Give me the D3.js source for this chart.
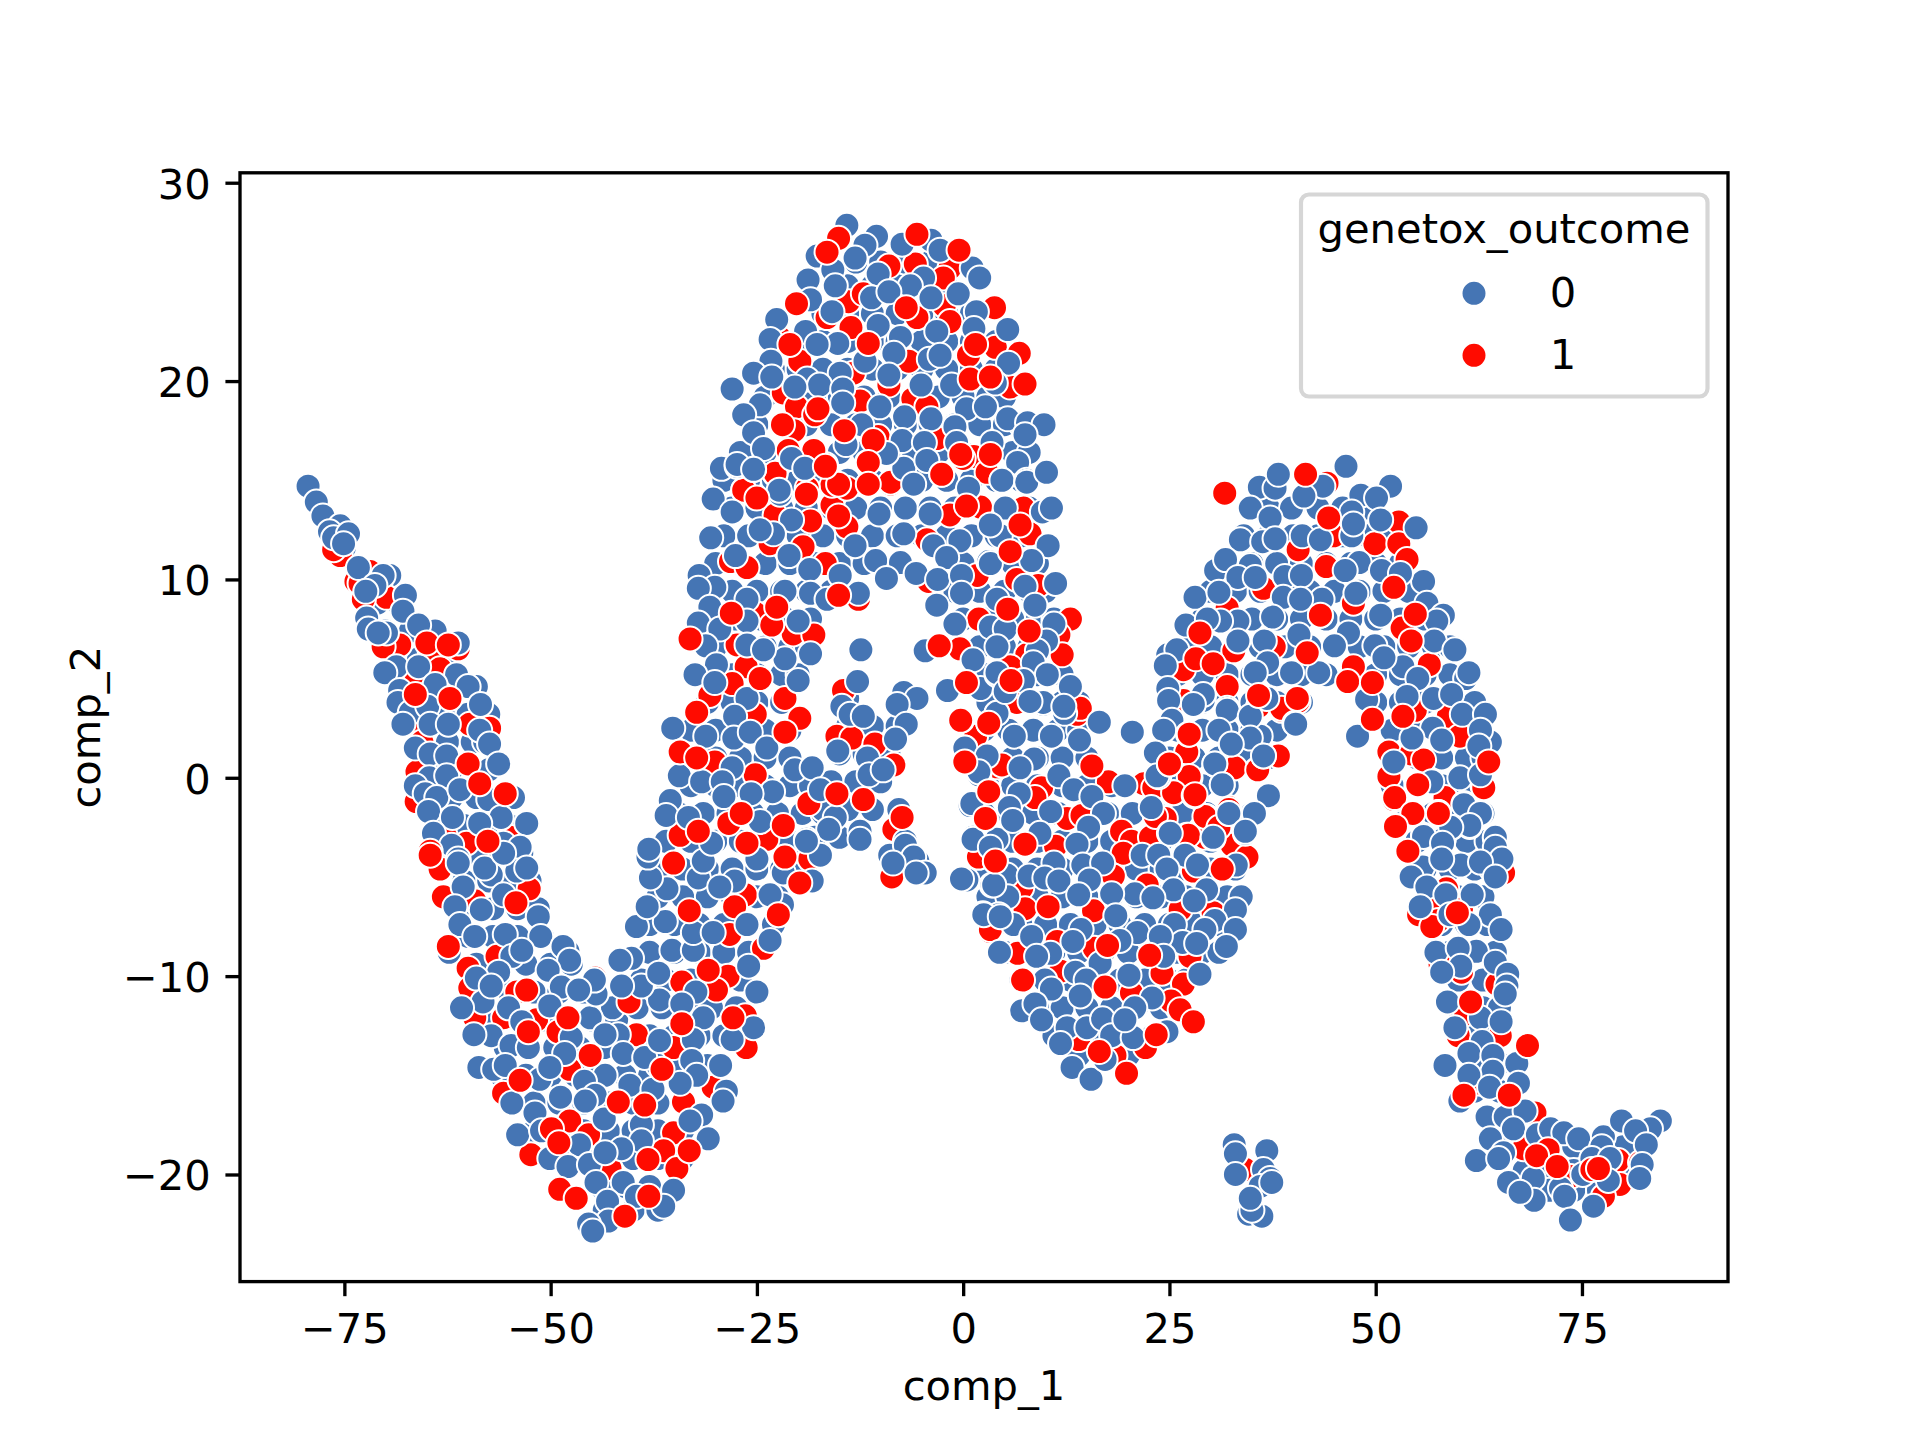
<!DOCTYPE html>
<html>
<head>
<meta charset="utf-8">
<title>comp_1 vs comp_2</title>
<script src="https://cdn.jsdelivr.net/npm/d3@7"></script>
<style>
  html, body { margin: 0; padding: 0; background: #fff; }
  svg { display: block; }
  text { font-family: "DejaVu Sans", sans-serif; fill: #000; }
</style>
</head>
<body>
<script>
// tick labels and legend entries
const xTickValues = [-75, -50, -25, 0, 25, 50, 75];
const yTickValues = [-20, -10, 0, 10, 20, 30];
const legendTitle = 'genetox_outcome';
const legendLabels = ['0', '1'];

// outcome 0 points that are mostly hidden by the others: [comp_2, [comp_1, ...]]
const blueHidden = [
[11.6,[-75]],[10.2,[-72,-69.5]],[8.8,[-71,-68.5]],[7.4,[-70,-67,-64]],[6,[-69,-66,-63]],[4.6,[-67.5,-64.5,-61.5,-59]],[3.2,[-66,-63,-60,-57.5]],[1.8,[-65.5,-62.5,-59.5,-58]],[0.4,[-65,-62,-59,-57.5]],[-1,[-65,-62,-59,-56,-54.5]],[-2.4,[-63.5,-60.5,-57.5,-55]],[-3.8,[-62,-59,-56,-53.5]],[-5.2,[-60.5,-57.5,-54.5,-52.5]],[-6.6,[-60,-57,-54,-51.5]],[-8,[-60,-57,-54,-51]],[-9.4,[-59,-56,-53,-50,-47.5]],[-10.8,[-58,-55,-52,-49,-46]],[-12.2,[-57,-54,-51,-48,-45,-42]],[-13.6,[-55.5,-52.5,-49.5,-46.5,-43.5,-40.5]],[-15,[-56,-53,-50,-47,-44,-41,-38]],[-16.4,[-52,-49,-46,-43,-40,-37]],[-17.8,[-52,-49,-46,-43,-40,-37,-34]],[-19.2,[-49,-46,-43,-40,-37,-34]],[-20.6,[-44,-41,-38]],[-21.8,[-43.5,-40,-37]],
[-14.5,[-37,-34,-31]],[-13,[-38,-35,-32,-29]],[-11.6,[-42.5,-39.5,-36.5,-33.5,-30.5,-27.5]],[-10.2,[-39,-36,-33,-30,-27]],[-8.8,[-38,-35,-32,-29,-26]],[-7.4,[-38,-35,-32,-29,-26,-23]],[-6,[-37,-34,-31,-28,-25,-22.5]],[-4.6,[-37,-34,-31,-28,-25,-22,-19.5]],[-3.2,[-36,-33,-30,-27,-24,-21,-18]],[-1.8,[-34.5,-31.5,-28.5,-25.5,-22.5,-19.5,-17]],[-0.4,[-33,-30,-27,-24,-21,-18.5]],[1,[-33,-30,-27,-24,-21]],[2.4,[-33,-30,-27,-24,-21]],[3.8,[-31,-28,-25,-22]],[5.2,[-31,-28,-25,-22,-20]],[6.6,[-30,-27,-24,-21,-19]],[8,[-30.5,-27.5,-24.5,-21.5,-18.5]],[9.4,[-31,-28,-25,-22,-19,-16]],[10.8,[-30,-27,-24,-21,-18,-15,-12]],[12.2,[-29,-26,-23,-20,-17,-14,-11,-8,-5,-2,1,4,7]],[13.6,[-28,-25,-22,-19,-16,-13,-10,-7,-4,-1,2,5,8]],[15,[-29,-26,-23,-20,-17,-14,-11,-8,-5,-2,1,4,7]],[16.4,[-27,-24,-21,-18,-15,-12,-9,-6,-3,0,3,6,8]],[17.8,[-25,-22,-19,-16,-13,-10,-7,-4,-1,2,5,7]],[19.2,[-24,-21,-18,-15,-12,-9,-6,-3,0,3,5]],[20.6,[-23,-20,-17,-14,-11,-8,-5,-2,1,4]],[22,[-20,-17,-14,-11,-8,-5,-2,1,4]],[23.4,[-17,-14,-11,-8,-5,-2,1]],[24.8,[-14,-11,-8,-5,-2]],[26,[-13,-10,-7,-4]],
[4,[-14,-7]],[2.6,[-14,-11,-8]],[1.2,[-15,-12,-9]],[-0.2,[-16,-13,-10]],[-1.6,[-17,-14,-11]],[-3,[-18,-15]],[-4.2,[-19.5,-7.5,-5.5]],
[10.8,[0,3,6,9]],[9.4,[-1,2,5,8,10]],[8,[0,3,6,9,11]],[6.6,[2,5,8,10]],[5.2,[3,6,9,12]],[3.8,[3,6,9,12,14]],[2.4,[2.5,5.5,8.5,11.5,14]],[1,[3,6,9,12,15]],[-0.4,[3,6,9,12,15,18,26,29,32]],[-1.8,[2.5,5.5,8.5,11.5,14.5,17.5,20.5,23.5,26.5,29.5,32.5,35]],[-3.2,[3,6,9,12,15,18,21,24,27,30,33]],[-4.6,[3,6,9,12,15,18,21,24,27,30,33]],[-6,[3,6,9,12,15,18,21,24,27,30,32]],[-7.4,[4,7,10,13,16,19,22,25,28,31]],[-8.8,[5,8,11,14,17,20,23,26,29,31]],[-10.2,[7,10,13,16,19,22,25,27]],[-11.6,[9,12,15,18,21,24,26]],[-13,[11,14,17,20,23]],[-14,[14,17,20]],
[1,[25,28,31,34,37]],[2.4,[26,29,32,35,38]],[3.8,[26,29,32,35,38,41]],[5.2,[26,29,32,35,38,41,44,50,53,56,59]],[6.6,[27,30,33,36,39,42,45,48,51,54,57,59]],[8,[29,32,35,38,41,44,47,50,53,56]],[9.4,[30,33,36,39,42,45,48,51,54]],[10.8,[32,35,38,41,44,47,50,53]],[12.2,[34,37,40,43,46,49,52]],[13.6,[37,40,43,46,49]],
[3.8,[50,53,56,59,62]],[2.4,[52,55,58,61]],[1,[52,55,58,61,63]],[-0.4,[52,55,58,61,63]],[-1.8,[54,57,60,63]],[-3.2,[55,58,61,63.5]],[-4.6,[56,59,62,64]],[-6,[57,60,63]],[-7.4,[58,61,63.5]],[-8.8,[59,62,64.5]],[-10.2,[60,63,65]],[-11.6,[60,63,65]],[-13,[61,64]],[-14.4,[62,65]],[-15.8,[62,65]],[-17.2,[64,67]],[-18.6,[65,68,71,74,77,80]],[-19.8,[68,71,74,77,80]],[-20.8,[69,71,74,77]]
];

// points, [comp_1, comp_2]
// outcome 1 points that sit under the outcome 0 points
const redBack = [
[-75.5,11.2],[-76.3,11.5],[-71.9,10.4],[-73.6,9.9],[-73.1,9.8],[-70.7,9.7],[-69.9,9.1],[-72.7,9],[-68.3,6.7],[-70.3,6.6],[-61.2,6.5],[-64.6,6.4],[-66.4,5.3],[-63.4,5.5],[-65.4,2.7],[-65.6,1.8],[-57.4,2.5],[-59.8,2.7],[-66.2,0.3],[-66.3,-1.2],[-62.8,-2.9],[-60.2,-3.3],[-54.9,-3],
[-63.4,-4.6],[-52.6,-5.6],[-63,-6],[-59.2,-6.2],[-26.4,-5.9],[-27.7,-6.5],[-28.3,-7.9],[-24.2,-8.6],[-56.5,-9],[-60,-9.6],[-54.1,-10.8],[-52.9,-10.7],[-59.8,-10.6],[-55.7,-12.1],[-51.7,-12.2],[-59.2,-12.1],[-49.1,-12.8],[-40.5,-11.3],[-39.6,-12.95],[-34.1,-10.3],[-28.5,-10],[-29.9,-10.7],[-26.4,-12],[-26.3,-13.6],[-35.1,-13.6],[-30.3,-15.6],[-55.7,-15.9],[-33.9,-16.35],[-47.7,-17.3],[-45.4,-18],[-52.4,-19],[-35.1,-17.9],[-36.3,-18.8],[-34.7,-19.7],[-42.8,-19.7],[-47.7,-14.7],[-44.6,-10.1],
[-22.8,15.3],[-16.7,15.8],[-8.8,14.8],[-11.5,14.8],[-15.9,13.75],[-14.1,14.6],[-15.9,14.75],[-18.5,12.95],[-22.8,13.25],[-26.6,14.5],[-1.6,13.25],[2.1,13.65],[-14.1,12.65],[-4.4,12],[-19.4,11.65],[-23.4,11.8],[-28.2,10.9],[-26.2,10.6],[-16.7,10.8],[-4.2,9.9],[1.7,10.2],[-12.7,9],[-25.2,8.3],[1.9,8],[-20.6,7.25],[-18.1,7.2],[-23.2,7.7],[-27.4,6.7],[-0.4,6.5],[-26.3,5.6],[-28,4.75],[0.4,4.8],[-14.5,4.4],[-30.7,4.15],[-21.6,4],[-25.2,3.2],[-19.8,3],[-15.3,2.1],[-13.5,2],[-10.7,1.7],[1.5,2.1],[-30.1,0.8],[-8.4,0.65],[0.2,0.8],[-25.2,0.15],[4.1,0.55],[3.1,-0.7],[-18.7,-1.3],[-28.4,-2.3],[-34.3,-2.9],[-8.4,-2.6],[2.7,-2.1],[-23.8,-3.1],
[-5.8,25.9],[-9,25.8],[-1.6,25.7],[-2.4,25.2],[-13.9,24],[-12.1,24.4],[-2.3,23.8],[3.8,23.7],[-5.6,23.2],[-1.6,23],[-16.5,23.2],[-13.6,22.7],[-22.3,22.2],[3.9,21.7],[6.8,21.4],[0.65,21.3],[-19.8,21],[-6.6,21],[-13.3,20.4],[-9,19.8],[5.7,19.7],[-21.8,19.4],[-20.2,18.7],[-18,18.3],[-6.1,19.1],[-4.4,18.7],[-12.5,19],[-20.5,17.5],[-10.3,17.2],[-18.1,16.5],[-21.2,16.5],[-22.8,15.35],[1.3,16.2],[-3.2,17.1],[-26.6,14.5],[-18.9,14.6],[-8.8,14.9],[-15.1,14.8],[2.9,15.4],
[13.8,3.2],[3.1,2.75],[27.1,1.3],[35.8,3.6],[38.6,3.4],[40.6,3.85],[0.2,0.8],[4.7,0.65],[25,0.7],[38.2,1.1],[32.8,0.5],[35.6,0.4],[27.5,0],[17.6,-0.2],[21.9,-0.3],[9.5,-0.5],[25.5,-0.75],[23.1,-0.5],[8.7,-1],[12.6,-2.05],[14.4,-1.9],[24.5,-2.05],[29.5,-1.95],[32.2,-1.5],[19.2,-2.7],[20.4,-3.2],[22.7,-3],[27.1,-2.9],[31.1,-2.6],[29.3,-3],[32.6,-3.4],[11.2,-3.45],[19.4,-3.8],[1.9,-4],[34.4,-4],[27.9,-4.7],[18.2,-4.95],[22.3,-5.4],[7.1,-5.55],[7.5,-6.6],[15.8,-6.7],[26.3,-6.65],[30.3,-6.8],[3.3,-7.75],[11.4,-8.25],[6.6,-8.85],[15.9,-8.6],[27.5,-9],[24.1,-9.85],[11.8,-9.75],[20.4,-10.85],[26.7,-10.4],[25.2,-11.25],[26.3,-11.7],[14,-13.2],[18.4,-14],[22.1,-13.6],
[38.2,15.2],[44.1,14.85],[52.8,12.9],[49.9,11.8],[52.8,11.8],[44.9,12.2],[40.6,11.5],[53.8,11],[44,10.65],[36.4,9.55],[32,8.55],[43.3,8.2],[47.3,8.8],[56,8.4],[53.2,7.55],[37.7,6.6],[32.8,6.4],[47.3,5.6],[56.5,5.7],[26.7,5.45],[32,4.6],[38.6,3.5],[26.7,3.9],[53.3,3.1],[54.8,3.4],[58.8,3.1],[60.2,2.1],[27.1,1.3],[38.2,1.1],[51.6,1.3],[54.3,1.2],[55.8,0.9],[32.9,0.5],[35.7,0.4],[27.4,0.07],[51.6,0.07],[63.1,-0.5],[25.5,-0.75],[58.4,-1],[32.2,-1.6],[29.3,-1.95],[57.6,-1.75],[23.3,-1.95],[31,-2.5],[27.3,-2.9],
[52.2,-1.1],[65.5,-4.8],[58.6,-5.6],[57.4,-6.4],[55.2,-6.9],[60.4,-6.6],[57.6,-7.2],[56.8,-7.5],[57.8,-9.4],[59.2,-9.3],[60.4,-9.8],[64.7,-10.4],[60.9,-11.9],[60,-13],[65.1,-13],[62.7,-15.4],[69.3,-16.9],[67.1,-16.9],[67.9,-18.7],[73.6,-20.1],[79.4,-19.3],[79.6,-20.5],[82.1,-19.4],[77.6,-21.1],[34.2,-19.75],
[-21.6,-4],[-18.6,-4.1],[-22.4,-6.9],[-8.65,-5],[1.85,-4],[3.9,-4.2],[3.3,-7.65],
[7.3,13.6],[8.1,12.3],[6.5,10],[9.1,9.7],[13,8],[11.6,7.2],[12,6.2],[7.7,6.2],[5.7,5.6],[14.2,3.5],[6.5,3.8]
];

// outcome 0 points
const blue = [
[-79.4,14.7],[-78.4,13.9],[-77.6,13.2],[-75.5,12.7],[-76.8,12.4],[-76.3,12.1],[-74.5,12.3],[-75.1,11.8],[-73.3,10.6],[-70.3,10.2],[-71.3,9.7],[-72.4,9.4],[-67.6,9.2],[-67.9,8.4],[-72.3,8.05],[-72.1,7.5],[-69.9,7.3],[-70.9,7.3],[-66,7.7],[-61.2,6.8],[-68.7,5.6],[-70.1,5.3],[-66,5.6],[-61.4,5.2],[-64,4.7],[-60,4.6],[-68.3,4.4],[-68.5,3.8],[-67,3.3],[-64.9,3.6],[-58.5,3.7],[-67.9,2.7],[-64.6,2.7],[-62.4,2.7],[-58.6,2.4],[-57.4,1.7],[-66.4,1.5],[-64.6,1.2],[-62,0.8],[-62.6,1.1],[-56.3,0.7],[-64.7,0],[-62.6,0.1],[-66.4,-0.4],[-65.2,-0.8],[-63.8,-1],[-61,-0.6],[-57.5,-1.1],[-64.8,-1.7],[-61.9,-2],[-56,-2],[-52.9,-2.3],[-64.2,-2.8],[-58.6,-2.3],[-62,-3.4],[-55.7,-3.3],[-53.7,-3.5],[-61.2,-4.1],
[-61.2,-4.3],[-57.2,-4.9],[-58,-4.55],[-54.1,-4.7],[-52.9,-4.55],[-55.7,-3.8],[-60.6,-5.5],[-61.6,-6.5],[-58.4,-6.65],[-55.7,-5.9],[-51.5,-7],[-61,-7.4],[-59.2,-8],[-55.5,-7.9],[-51.2,-8],[-62.3,-8.8],[-54.7,-9],[-53.5,-8.7],[-47.9,-8.75],[-48.5,-8.5],[-47.7,-9.2],[-50.3,-9.7],[-56.3,-9.8],[-59,-10.1],[-48.7,-10.55],[-58.2,-11.3],[-60.8,-11.6],[-57.2,-10.5],[-55.1,-11.6],[-53.5,-12.3],[-50.1,-11.5],[-45.2,-12.1],[-44.5,-10.9],[-44.7,-10.2],[-46.6,-10.7],[-57.2,-13],[-59.3,-12.95],[-54.8,-13.5],[-52.7,-13.6],[-47.5,-13.1],[-41.8,-12.95],[-43.4,-12.95],[-41.2,-13.9],[-48.3,-13.9],[-58.7,-14.6],[-56.9,-14.7],[-55.5,-14.5],[-51.3,-15.2],[-50.1,-14.6],[-43.4,-15],[-45.9,-15.3],[-48.8,-16.1],[-44.6,-16],[-45.8,-16.3],[-40.4,-15.5],[-37.6,-15.7],[-38.6,-14.1],[-36.8,-13.25],[-36.8,-11.2],[-39,-10.5],[-41.4,-10.5],[-36.9,-9.85],[-40.2,-9.1],[-41.6,-9.2],[-35.3,-8.7],[-32.7,-8.7],[-39.6,-7.5],[-36.1,-7.25],[-38.3,-6.5],[-32.7,-7.8],[-35.9,-5.6],[-37.9,-5.05],[-32.1,-5.05],[-31.5,-4.2],[-38.2,-4],[-27.7,-5.2],[-25,-4.1],[-29.5,-5.5],[-26.2,-7.4],[-30.3,-7.8],[-26,-9.5],[-25,-10.8],[-32.4,-10.8],[-34.1,-11.4],[-31.5,-12.1],[-25.4,-12.6],[-28,-13.2],[-32.7,-13.2],[-29.4,-14.5],[-32.9,-14.25],[-32.3,-15],[-34.3,-15.4],[-28.7,-15.8],[-29.1,-16.3],[-54.7,-16.4],[-51.9,-16.9],[-43.5,-17.2],[-39,-17.5],[-39,-18.3],[-41.4,-18.7],[-31.7,-17],[-33.1,-17.3],[-30.9,-18.2],[-54,-18],[-51.1,-17.8],[-46.5,-18.5],[-50.1,-19.2],[-47.9,-19.6],[-45.3,-19.5],[-43.4,-18.9],[-44.5,-20.4],[-41.2,-20.4],[-35.1,-20.8],[-36.3,-21.6],[-43.1,-21.35],[-43,-22.35],[-45.4,-22.5],[-44.9,-22.85],[-39.6,-21.1],
[-29.3,15.6],[-27.4,15.7],[-25.4,15.55],[-19.2,15.6],[-22.2,14.3],[-30.3,14.05],[-28,13.4],[-20.8,13],[-10.2,13.3],[-4,13.3],[-23,12.3],[-24.6,12.5],[-30.6,12.1],[-7.2,12.3],[-13.1,11.7],[-3.6,11.7],[-0.4,11.95],[-27.6,11.2],[-21.1,11.2],[-10.6,10.95],[-7.6,10.85],[-2,11.1],[3.1,10.9],[-18.6,10.5],[-14.9,10.2],[-5.7,10.3],[-9.3,10.05],[-3.1,10],[-0.2,10.2],[-32,10.2],[-30.1,9.6],[-32.1,9.55],[-21.6,9.4],[-18.5,9.3],[-12.7,9.3],[-0.2,9.3],[-16.5,9],[-26.2,9],[-3.2,8.7],[-30.7,8.6],[-26.2,7.9],[-32.1,7.8],[-20,7.9],[-29.5,7.5],[-1,7.75],[3.3,7.6],[-12.4,6.45],[-4.6,6.4],[-26.2,6.7],[-31.2,6.65],[-18.5,6.25],[-21.6,6],[-24.2,6.45],[1.2,5.95],[-29.9,5.7],[-32.5,5.2],[-30.1,4.8],[-20,4.9],[-12.8,4.85],[-1.9,4.4],[2.1,4.5],[4.1,5.2],[-7.2,4.3],[-5.6,4],[-26.2,4],[-8,3.7],[-14.7,3.6],[-13.7,3.2],[-12.1,3.1],[4.1,3.25],[-27.7,3.1],[-35.2,2.5],[-6.9,2.7],[-8.2,1.95],[-31.2,2.1],[-27.8,2],[-25.8,2.3],[-23.8,1.5],[-15.2,1.35],[-11.6,1],[0.2,1.5],[-34.4,0.1],[-28,0.5],[-31.7,-0.2],[-29.2,-0.2],[-20.4,0.4],[-18.3,0.5],[-11.4,0.15],[-9.7,0.4],[-23.1,-0.7],[-25.7,-0.8],[-17.3,-0.6],[1.9,0.15],[-35.5,-1.15],[-29,-0.95],[-36,-1.9],[-33.3,-2],[-24.6,-2.2],[-15.5,-2],[-16.3,-2.6],[-12.5,-2.7],[-19,-3.1],[0.85,-1.4],[-7.8,-1.6],[-7,-3.2],[1.2,-3],[-38.1,-3.6],[-30.5,-3.3],[4.1,-3.1],
[-14.1,27.85],[-10.5,27.3],[-7.4,26.9],[-3.9,27.1],[-17.7,26.3],[-11.9,26.85],[-2.8,26.6],[-13.1,26.2],[1.1,25.7],[2,25.2],[-15.8,25.6],[-18.8,25.1],[-10.3,25.4],[-4.8,25.2],[-6.4,24.8],[-15.5,24.8],[-11.1,24.2],[-9,24.5],[-3.9,24.2],[-0.6,24.4],[-18.5,24.1],[-15.9,23.5],[1.6,23.5],[-22.6,23.1],[-10.3,22.8],[-3.2,22.5],[1.3,22.65],[5.4,22.6],[-7.6,22.2],[-19.1,22.5],[-23.4,22.1],[-15.2,21.9],[-17.7,21.85],[-8.4,21.4],[-11.9,21],[-4.1,21.1],[-2.8,21.3],[5.5,20.9],[-23.3,21],[-25.4,20.4],[-9,20.3],[-14.9,20.4],[-18.9,20.1],[-23.2,20.2],[-28,19.6],[-17.4,19.8],[-14.6,19.6],[-5.1,19.8],[-1.4,19.8],[3.9,19.9],[-20.4,19.7],[-24.6,18.8],[-26.6,18.3],[-14.6,18.9],[-10.1,18.7],[0.4,18.6],[2.7,18.7],[-7.1,18.2],[-3.9,18.1],[5.4,18.1],[7.8,17.9],[9.8,17.8],[-1,17.7],[-25.4,17.4],[-12.3,17.8],[7.5,17.3],[-7.4,17],[-4.7,16.9],[-14.2,16.8],[-24.2,16.6],[3.5,16.9],[-0.8,16.9],[6.6,15.9],[10.1,15.4],[4.7,15],[7.7,15],[-20.8,16.1],[-19.2,15.6],[-27.4,15.8],[-25.4,15.55],[-7.2,15.6],[-9.3,16.35],[-4.4,16],[-22.3,14.5],[-6,14.8],[0.65,14.6],
[16.5,2.8],[20.5,2.3],[4.1,3.25],[9.7,3.7],[12.3,3.25],[25.3,2.9],[32,3.5],[29.1,3.9],[40.2,2.75],[0.2,1.5],[6.2,2.1],[14.1,1.9],[10.7,2.1],[23.2,1.3],[36,2.1],[32.5,1.7],[36.4,1.1],[8.6,0.95],[30.5,0.7],[2.9,1.1],[6.9,0.5],[1.9,0.3],[11.6,0.1],[19.6,-0.4],[31.4,-0.35],[23.7,0.05],[37,-0.9],[6.8,-0.8],[13.4,-0.6],[15.6,-0.95],[1.05,-1.3],[5.6,-1.5],[10.6,-1.7],[17,-1.8],[22.8,-1.5],[32.2,-1.8],[35.3,-1.8],[6,-2.15],[15.2,-2.5],[25,-2.8],[30.3,-3.05],[34.2,-2.8],[1.3,-3.1],[9.3,-2.8],[13.8,-3.35],[21.7,-3.9],[23.7,-3.9],[26.9,-3.9],[14.5,-4.4],[16.9,-4.3],[28.4,-4.4],[11,-4.3],[24.7,-4.6],[33.1,-4.4],[5.3,-4.9],[8,-4.95],[9.9,-5.05],[0.45,-5.15],[11.6,-5.2],[3.5,-5.4],[15.3,-5.15],[29.5,-5.65],[25.5,-5.65],[33.7,-6],[20.8,-5.85],[18,-5.85],[14,-5.9],[23,-6.05],[5.4,-6],[28,-6.2],[33,-6.65],[2.4,-6.85],[4.3,-6.9],[18.5,-6.95],[25.6,-7.4],[6.1,-7.4],[30.5,-7.2],[33,-7.65],[21.1,-7.8],[29.3,-7.65],[14.3,-7.65],[8.3,-8],[13.3,-8.25],[26.6,-8.3],[28.3,-8.35],[31.9,-8.5],[23.9,-8],[4.4,-8.8],[10.6,-8.85],[19,-8.2],[8.9,-9],[24.3,-9],[16.6,-9.35],[28.7,-9.9],[20.1,-9.95],[13.6,-9.8],[14.9,-10.2],[9.9,-10.2],[10.7,-10.65],[22.9,-11.1],[14.2,-11],[7.1,-11.75],[8.7,-11.4],[9.5,-12.2],[12.6,-12.6],[15,-12.6],[16.9,-12.15],[20.8,-11.6],[24.7,-12.8],[18,-13],[20.6,-13.1],[11.8,-13.4],[13.2,-14.6],[15.5,-15.2],[17.2,-14.2],[19.6,-12.2],
[46.4,15.7],[51.8,14.7],[35.9,14.65],[37.8,14.6],[43.6,14.7],[38.2,15.3],[48.2,14.25],[34.8,13.6],[39.8,13.6],[41.3,14.2],[47.1,13.4],[50.1,14.1],[50.6,13],[54.9,12.6],[37.2,13.1],[33.6,12],[36.3,11.9],[37.8,12.05],[41.1,12.2],[47.1,12.2],[47.3,12.8],[43.3,12],[48,10.85],[34.8,10.7],[30.6,10.45],[31.8,11],[39,10.15],[46.3,10.45],[33.3,10.1],[41,10.2],[50.7,10.45],[55.8,9.9],[53,10.3],[35.4,10.1],[28.1,9.1],[31,9.35],[38.8,9.1],[43.5,9],[47.6,9.3],[40.9,9],[56.2,8.8],[58.2,8.2],[57.4,7.9],[50.6,8.2],[37.5,8.1],[33.3,7.9],[31.2,7.9],[27,7.7],[29.6,8],[40.7,7.2],[46.7,7.3],[36.5,6.9],[33.3,6.9],[45,6.65],[49.9,6.65],[57.1,6.9],[59.6,6.45],[24.8,6.2],[25.9,6.45],[24.5,5.65],[36.9,5.8],[39.8,5.3],[43.1,5.3],[35.4,5.3],[53.3,5.6],[51,6.05],[60.9,5],[61.3,5.3],[55.1,5],[57,4],[59.2,4.2],[24.8,4.5],[29.1,4.2],[27.9,3.7],[24.9,3.9],[32,3.4],[36.8,4],[48.9,3.95],[53.8,4.1],[25.3,2.9],[40.3,2.7],[31,2.4],[34.8,3.1],[56.9,2.5],[60.5,3.2],[63.3,3.2],[47.8,2.1],[54.4,2],[63.9,1.8],[62.7,2.4],[24.3,2.4],[34.8,2],[32.5,1.7],[62.5,1.6],[58,1.9],[52.2,0.8],[23.3,1.25],[36.4,1.1],[30.5,0.7],[60.2,0],[62.7,0.15],[56.8,-0.2],[37,-0.9],[31.4,-0.35],[60.7,-1.3],[62.5,-1.8],[35.3,-1.8],[32.2,-1.8],[23.5,0.1],[61.4,-2.45],[64.5,-3.05],[59.2,-2.5],[55.8,-2.9],[25.1,-2.8],[30.3,-3],[34.2,-2.7],[58.2,-3.1],
[60.7,-1.36],[62.7,-1.8],[61.4,-2.4],[59.1,-2.5],[55.8,-2.96],[64.5,-3],[58.1,-3.3],[64.5,-3.5],[65.3,-4.1],[60.3,-4.4],[62.7,-4.25],[55.7,-4.5],[58,-4.1],[64.5,-5],[54.3,-5],[56.2,-5.5],[61.7,-5.9],[58.5,-5.9],[55.4,-6.5],[63.9,-6.9],[65.2,-7.65],[61.3,-7.4],[59,-6.9],[57.3,-8.8],[62.2,-8.75],[60,-8.6],[64.5,-9.3],[60.3,-9.5],[58,-9.8],[66,-9.9],[65.9,-10.5],[65.7,-10.9],[58.7,-11.3],[62.7,-12.1],[65.2,-12.3],[59.6,-12.6],[62.9,-13.3],[61.3,-13.9],[64.2,-14],[58.4,-14.5],[67.1,-14.4],[64.2,-14.8],[61.3,-15],[67.3,-15.4],[63.8,-15.6],[60.2,-16.3],[63.5,-17.1],[65.7,-17.1],[68.1,-16.8],[66.7,-17.7],[63.9,-18.2],[69.6,-18],[71.2,-17.7],[72.8,-17.9],[74.6,-18.2],[77.6,-18.1],[79.8,-17.3],[84.5,-17.3],[83.3,-17.7],[81.5,-17.8],[82.8,-18.5],[62.2,-19.3],[65.5,-18.9],[64.9,-19.2],[77.4,-18.6],[76.2,-19.2],[78.4,-19.2],[82.3,-19.5],[66.1,-20.4],[69.1,-20.2],[82,-20.2],[75.1,-20],[78.2,-20.3],[72.4,-20.7],[69.2,-21.3],[67.5,-20.9],[72.9,-21.1],[76.4,-21.6],[73.6,-22.3],
[32.85,-18.5],[33,-18.96],[33,-20],[36.8,-18.8],[36.4,-19.75],[37.2,-20.2],[36,-20.6],[37.4,-20.4],[34.6,-22],[36.2,-22.1],[35,-21.8],[34.8,-21.2],
[-17.3,-3.9],[-19,-3.2],[-21.8,-4.8],[-18.3,-5.2],[-21.9,-6.4],[-23.4,-5.9],[-23.4,-8.2],[-8.9,-3.9],[-7,-3.4],[-6,-4],[-4.6,-4.8],[-5.7,-4.8],[-8.5,-4.3],[-12.5,-3.1],[-0.2,-5.1],[1.2,-3.1],[3.7,-5.4],[2.5,-6.9],[4.5,-7],[3.3,-3.5],
[4.7,15],[7.7,14.9],[10.1,15.4],[5.1,13.6],[9.6,13.4],[10.7,13.6],[10.3,11.7],[8.3,10.95],[3.3,10.8],[11.2,9.8],[7.5,9.65],[8.7,8.7],[4.1,9],[5.1,7.5],[11,7.75],[10.1,6.9],[9,6.4],[8.5,5.8],[10.2,5.2],[13,4.6],[4.1,5.3],[7.3,4.9],[9.7,3.8],[5.1,4.35],[8.1,3.85],[4.5,12.2],[4.1,6.6],[3.3,12.75],[12.2,3.6]
];

// outcome 1 points drawn over everything else
const redFront = [
[-65,6.8],[-62.4,6.7],[-66.4,4.2],[-62.2,4],[-60,0.7],[-58.6,-0.3],[-55.5,-0.8],[-57.6,-3.2],[-64.6,-3.7],
[-64.6,-3.9],[-54.2,-6.3],[-35.1,-4.3],[-33.2,-6.7],[-62.4,-8.5],[-52.7,-12.8],[-47.9,-12.1],[-30.9,-9.7],[-34.1,-12.4],[-27.9,-12.1],[-45.2,-14],[-36.5,-14.7],[-53.7,-15.25],[-38.6,-16.5],[-41.8,-16.35],[-49.9,-17.7],[-49,-18.4],[-33.2,-18.8],[-38.2,-19.25],[-48.9,-20.75],[-46.9,-21.2],[-38.1,-21.1],[-41,-22.1],
[-25,14.1],[-19,14.3],[-11.6,15.9],[-2.6,15.3],[0,16.1],[-15.1,13.2],[0.4,13.7],[-15.1,9.2],[-28.1,8.3],[-22.6,8.6],[-33.1,7],[-2.9,6.65],[-24.6,5],[0.4,4.8],[-32.3,3.3],[-21.6,2.3],[-0.2,2.9],[-34.3,1.3],[-32.3,1],[-15.3,-0.8],[-12.1,-1.1],[-26.9,-1.8],[-21.8,-2.4],[-32.1,-2.7],[-7.4,-2],[-26.2,-3.3],
[-15.1,27.2],[-5.6,27.4],[-0.5,26.6],[-16.5,26.5],[-20.2,23.9],[-6.9,23.7],[-21,21.85],[-11.5,21.9],[1.5,21.85],[0.85,20.1],[3.3,20.2],[7.5,19.85],[-17.6,18.6],[-21.9,17.8],[-14.4,17.5],[-10.9,17],[-16.7,15.7],[-11.5,15.9],[-0.3,16.3],[3.3,16.3],[-2.6,15.3],[-11.5,14.8],
[-0.3,2.9],[3.1,2.75],[27.3,2.2],[0.2,0.8],[15.6,0.6],[25,0.7],[28,-0.9],[3.1,-0.7],[2.7,-2.05],[7.5,-3.35],[3.9,-4.2],[31.4,-4.6],[10.3,-6.5],[17.5,-8.45],[22.6,-8.95],[7.2,-10.2],[17.2,-10.55],[27.9,-12.3],[23.4,-12.95],[16.5,-13.8],[19.8,-14.9],
[31.7,14.35],[41.5,15.3],[44.3,13.1],[52.2,9.6],[43.3,8.2],[54.8,8.25],[28.7,7.3],[54.3,6.9],[41.7,6.3],[28.2,6],[30.3,5.75],[46.6,4.85],[49.6,4.8],[35.8,4.15],[40.5,4],[49.6,2.95],[53.3,3.1],[27.4,2.2],[25,0.7],[63.7,0.8],[55.1,-0.35],[28.1,-0.85],[52.3,-1],[54.5,-1.8],[57.6,-1.75],[52.5,-2.45],
[54.5,-1.8],[57.6,-1.8],[52.4,-2.45],[53.9,-3.7],[59.9,-6.8],[61.5,-11.3],[68.4,-13.5],[60.7,-16],[66.2,-16],[70.9,-18.75],[69.5,-19.05],[72,-19.6],[76.2,-19.75],[77,-19.7],
[-21.6,-4],[-19.8,-5.3],[-22.4,-6.9],
[6.9,12.75],[5.7,11.4],[5.4,8.5],[8,7.4],[5.8,4.9]
];

const WIDTH = 1920;
const HEIGHT = 1440;

// same box as a 640x480 matplotlib figure at 300 dpi
const LEFT = 240;
const RIGHT = 1728;
const TOP = 172.8;
const BOTTOM = 1281.6;

const PT = 300 / 72;
const FONT_SIZE = 10 * PT;
const LINE_WIDTH = 0.8 * PT;
const TICK_SIZE = 3.5 * PT;
const MARKER_R = 3 * PT;
const EDGE_WIDTH = 0.48 * PT;

const BLUE = '#4575b4';
const RED = '#ff0b00';

const svg = d3.select('body').append('svg')
  .attr('width', WIDTH)
  .attr('height', HEIGHT)
  .attr('viewBox', '0 0 ' + WIDTH + ' ' + HEIGHT);

const xScale = d3.scaleLinear().domain([-87.65, 92.7]).range([LEFT, RIGHT]);
const yScale = d3.scaleLinear().domain([-25.4, 30.5]).range([BOTTOM, TOP]);

const minus = function (d) { return String(d).replace('-', '\u2212'); };

const plot = svg.append('g');

// draws one group of points
function drawPoints(name, points, color) {
  plot.append('g')
    .attr('class', name)
    .selectAll('circle')
    .data(points)
    .join('circle')
      .attr('cx', function (d) { return xScale(d[0]); })
      .attr('cy', function (d) { return yScale(d[1]); })
      .attr('r', MARKER_R)
      .attr('fill', color)
      .attr('stroke', '#fff')
      .attr('stroke-width', EDGE_WIDTH);
}

var hiddenPoints = blueHidden.reduce(function (result, row) {
  row[1].forEach(function (x) { result.push([x, row[0]]); });
  return result;
}, []);

drawPoints('blue-hidden', hiddenPoints, BLUE);
drawPoints('red-back', redBack, RED);
drawPoints('blue', blue, BLUE);
drawPoints('red-front', redFront, RED);

// axes
function styleAxis(g) {
  g.selectAll('.tick line').attr('stroke', '#000').attr('stroke-width', LINE_WIDTH);
  g.selectAll('.tick text').attr('font-size', FONT_SIZE).attr('fill', '#000');
  g.select('.domain').remove();
}

svg.append('g')
  .attr('transform', 'translate(0,' + BOTTOM + ')')
  .call(d3.axisBottom(xScale).tickValues(xTickValues).tickFormat(minus)
    .tickSize(TICK_SIZE).tickPadding(17.6))
  .call(styleAxis);

svg.append('g')
  .attr('transform', 'translate(' + LEFT + ',0)')
  .call(d3.axisLeft(yScale).tickValues(yTickValues).tickFormat(minus)
    .tickSize(TICK_SIZE).tickPadding(3.5 * PT))
  .call(styleAxis)
  .call(function (g) { g.selectAll('.tick text').attr('dy', '0.37em'); });

// spines
svg.append('rect')
  .attr('x', LEFT)
  .attr('y', TOP)
  .attr('width', RIGHT - LEFT)
  .attr('height', BOTTOM - TOP)
  .attr('fill', 'none')
  .attr('stroke', '#000')
  .attr('stroke-width', LINE_WIDTH);

// axis labels
svg.append('text')
  .attr('x', (LEFT + RIGHT) / 2)
  .attr('y', 1400)
  .attr('text-anchor', 'middle')
  .attr('font-size', FONT_SIZE)
  .text('comp_1');

svg.append('text')
  .attr('transform', 'translate(100,' + (TOP + BOTTOM) / 2 + ') rotate(-90)')
  .attr('text-anchor', 'middle')
  .attr('font-size', FONT_SIZE)
  .text('comp_2');

// legend
const legend = svg.append('g');

legend.append('rect')
  .attr('x', 1301)
  .attr('y', 194.5)
  .attr('width', 406.5)
  .attr('height', 202)
  .attr('rx', 8)
  .attr('fill', '#fff')
  .attr('fill-opacity', 0.8)
  .attr('stroke', '#d6d6d6')
  .attr('stroke-width', 1 * PT);

legend.append('text')
  .attr('x', 1504)
  .attr('y', 243)
  .attr('text-anchor', 'middle')
  .attr('font-size', FONT_SIZE)
  .text(legendTitle);

const legendColors = [BLUE, RED];
const legendRows = d3.scalePoint().domain(legendLabels).range([293.3, 355.3]);

legend.selectAll('circle')
  .data(legendLabels)
  .join('circle')
    .attr('cx', 1474)
    .attr('cy', function (d) { return legendRows(d); })
    .attr('r', MARKER_R)
    .attr('fill', function (d, i) { return legendColors[i]; })
    .attr('stroke', '#fff')
    .attr('stroke-width', EDGE_WIDTH);

legend.selectAll('text.entry')
  .data(legendLabels)
  .join('text')
    .attr('class', 'entry')
    .attr('x', 1563)
    .attr('y', function (d) { return legendRows(d) + 14; })
    .attr('text-anchor', 'middle')
    .attr('font-size', FONT_SIZE)
    .text(function (d) { return d; });
</script>
</body>
</html>
